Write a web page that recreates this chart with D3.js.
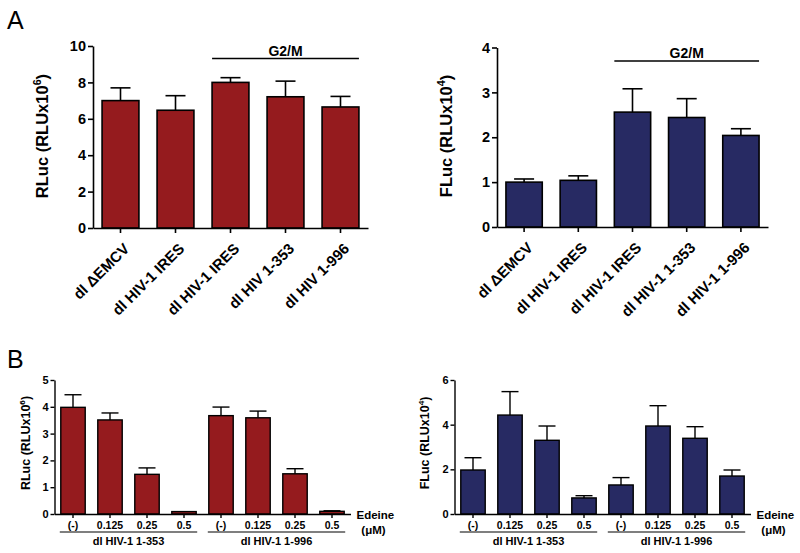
<!DOCTYPE html>
<html>
<head>
<meta charset="utf-8">
<script src="https://cdn.jsdelivr.net/npm/d3@7"></script>
<style>
html,body{margin:0;padding:0;background:#fff;}
svg{display:block;font-family:"Liberation Sans",Arial,Helvetica,sans-serif;}
</style>
</head>
<body>
<svg id="chart" width="800" height="553"></svg>
<script>
// ---------- data ----------
const catsA_left  = ["dl \u0394EMCV","dl HIV-1 IRES","dl HIV-1 IRES","dl HIV 1-353","dl HIV 1-996"];
const catsA_right = ["dl \u0394EMCV","dl HIV-1 IRES","dl HIV-1 IRES","dl HIV-1 1-353","dl HIV-1 1-996"];
const rlucA    = [7.0, 6.47, 8.0, 7.21, 6.65];
const rlucAErr = [0.7, 0.8, 0.26, 0.86, 0.58];
const flucA    = [1.0, 1.04, 2.56, 2.44, 2.04];
const flucAErr = [0.07, 0.10, 0.52, 0.42, 0.15];
const ticksA_left  = [0, 2, 4, 6, 8, 10];
const ticksA_right = [0, 1, 2, 3, 4];

const edeineDoses = ["(-)", "0.125", "0.25", "0.5", "(-)", "0.125", "0.25", "0.5"];
const groupsB = ["dl HIV-1 1-353", "dl HIV-1 1-996"];
const rlucB    = [3.98, 3.51, 1.48, 0.09, 3.67, 3.59, 1.50, 0.10];
const rlucBErr = [0.47, 0.26, 0.24, 0.0, 0.32, 0.25, 0.19, 0.02];
const flucB    = [1.97, 4.43, 3.30, 0.72, 1.30, 3.94, 3.39, 1.70];
const flucBErr = [0.55, 1.05, 0.64, 0.10, 0.33, 0.91, 0.52, 0.27];
const ticksB_left  = [0, 1, 2, 3, 4, 5];
const ticksB_right = [0, 2, 4, 6];

const RED = "#951b1e", NAVY = "#272a63";

const svg = d3.select("#chart");

function panel(o) {
  const g = svg.append("g");
  const idx = d3.range(o.values.length);
  const x = d3.scaleBand().domain(idx).range([o.x0, o.x1]).padding(0);
  const y = d3.scaleLinear().domain([0, o.ymax]).range([o.yb, o.yt]);
  const bw = x.bandwidth() * o.barFrac;
  const off = (x.bandwidth() - bw) / 2;

  // error bars (behind bars)
  const eg = g.append("g").attr("stroke", "#000").attr("stroke-width", o.sw);
  idx.forEach(i => {
    if (o.errors[i] <= 0) return;
    const cx = x(i) + x.bandwidth() / 2;
    eg.append("line").attr("x1", cx).attr("x2", cx)
      .attr("y1", y(o.values[i])).attr("y2", y(o.values[i] + o.errors[i]));
    eg.append("line").attr("x1", cx - o.cap / 2).attr("x2", cx + o.cap / 2)
      .attr("y1", y(o.values[i] + o.errors[i])).attr("y2", y(o.values[i] + o.errors[i]));
  });

  g.append("g").selectAll("rect").data(o.values).join("rect")
    .attr("x", (d, i) => x(i) + off)
    .attr("y", d => y(d))
    .attr("width", bw)
    .attr("height", d => y(0) - y(d))
    .attr("fill", o.color)
    .attr("stroke", "#000")
    .attr("stroke-width", o.sw);

  // y axis
  const ya = g.append("g").attr("transform", `translate(${o.x0},0)`)
    .call(d3.axisLeft(y).tickValues(o.ticks).tickFormat(d3.format("d"))
      .tickSize(o.tick).tickSizeOuter(0).tickPadding(2));
  ya.select(".domain").attr("stroke-width", o.sw);
  ya.selectAll(".tick line").attr("stroke-width", o.sw);
  ya.selectAll("text").attr("font-size", o.tickFont).attr("font-weight", "bold")
    .attr("font-family", "Liberation Sans, Arial, sans-serif").attr("fill", "#000");

  // x axis
  const xa = g.append("g").attr("transform", `translate(0,${o.yb})`)
    .call(d3.axisBottom(x).tickSize(o.tick).tickSizeOuter(0).tickFormat(i => o.labels[i]));
  xa.select(".domain").attr("stroke-width", o.sw);
  xa.selectAll(".tick line").attr("stroke-width", o.sw);
  const xt = xa.selectAll("text").attr("font-size", o.xFont).attr("font-weight", "bold")
    .attr("font-family", "Liberation Sans, Arial, sans-serif").attr("fill", "#000");
  if (o.rotate) {
    xt.attr("text-anchor", "end").attr("dy", "0.35em")
      .attr("transform", `translate(${o.rotX},${o.rotY}) rotate(-45)`).attr("y", 0).attr("x", 0);
  } else {
    xt.attr("y", o.tick + 4).attr("dy", "0.71em");
  }

  // y title
  const t = g.append("text")
    .attr("transform", `translate(${o.titleX},${o.titleY}) rotate(-90)`)
    .attr("text-anchor", "middle").attr("font-weight", "bold").attr("font-size", o.titleFont);
  t.append("tspan").text(o.title1);
  t.append("tspan").text(o.titleSup).attr("font-size", o.titleFont * 0.65).attr("dy", -o.titleFont * 0.4);
  t.append("tspan").text(")").attr("dy", o.titleFont * 0.4);

  return {g, x, y, bw, off};
}

// ---------- Panel letters ----------
svg.append("text").attr("x", 7).attr("y", 29).attr("font-size", 25).text("A");
svg.append("text").attr("x", 7).attr("y", 368).attr("font-size", 25).text("B");

const common = {sw: 1.6, tick: 5, barFrac: 0.67, rotate: true, rotX: 6, rotY: 18};

const pa1 = panel(Object.assign({}, common, {
  x0: 93, x1: 368, yt: 46, yb: 228, ymax: 10, ticks: ticksA_left,
  values: rlucA, errors: rlucAErr, labels: catsA_left, color: RED, cap: 20,
  tickFont: 14.5, xFont: 15, titleFont: 16.5, titleX: 48, titleY: 136,
  title1: "RLuc (RLUx10", titleSup: "6"
}));
const pa2 = panel(Object.assign({}, common, {
  x0: 497, x1: 768, yt: 47.5, yb: 227, ymax: 4, ticks: ticksA_right,
  values: flucA, errors: flucAErr, labels: catsA_right, color: NAVY, cap: 20,
  tickFont: 14.5, xFont: 15, titleFont: 16.5, titleX: 452, titleY: 136,
  title1: "FLuc (RLUx10", titleSup: "4"
}));

function g2m(p, n0, n1, ly) {
  const xa = p.x(n0) + p.off, xb = p.x(n1) + p.off + p.bw;
  p.g.append("line").attr("x1", xa).attr("x2", xb).attr("y1", ly).attr("y2", ly)
    .attr("stroke", "#000").attr("stroke-width", 1.6);
  p.g.append("text").attr("x", (xa + xb) / 2).attr("y", ly - 3).attr("text-anchor", "middle")
    .attr("font-weight", "bold").attr("font-size", 14).text("G2/M");
}
g2m(pa1, 2, 4, 58.5);
g2m(pa2, 2, 4, 61);

// ---------- Panel B ----------
const commonB = {sw: 1.4, tick: 4, barFrac: 0.66, rotate: false};
const pb1 = panel(Object.assign({}, commonB, {
  x0: 54.5, x1: 350.5, yt: 380, yb: 514, ymax: 5, ticks: ticksB_left,
  values: rlucB, errors: rlucBErr, labels: edeineDoses, color: RED, cap: 17,
  tickFont: 11, xFont: 10.5, titleFont: 12.5, titleX: 30, titleY: 443,
  title1: "RLuc (RLUx10", titleSup: "6"
}));
const pb2 = panel(Object.assign({}, commonB, {
  x0: 454.5, x1: 750.5, yt: 380, yb: 514, ymax: 6, ticks: ticksB_right,
  values: flucB, errors: flucBErr, labels: edeineDoses, color: NAVY, cap: 17,
  tickFont: 11, xFont: 10.5, titleFont: 12.5, titleX: 429, titleY: 443,
  title1: "FLuc (RLUx10", titleSup: "4"
}));

function groupsUnder(p, x1) {
  groupsB.forEach((name, gi) => {
    const xa = p.x(gi * 4) + p.off - 1, xb = p.x(gi * 4 + 3) + p.off + p.bw + 1;
    p.g.append("line").attr("x1", xa).attr("x2", xb).attr("y1", 532).attr("y2", 532)
      .attr("stroke", "#000").attr("stroke-width", 1.2);
    p.g.append("text").attr("x", (xa + xb) / 2).attr("y", 545).attr("text-anchor", "middle")
      .attr("font-weight", "bold").attr("font-size", 11).text(name);
  });
  p.g.append("text").attr("x", x1 + 6).attr("y", 518.5).attr("font-weight", "bold")
    .attr("font-size", 11.5).text("Edeine");
  p.g.append("text").attr("x", x1 + 23).attr("y", 534).attr("text-anchor", "middle")
    .attr("font-weight", "bold").attr("font-size", 11.5).text("(\u03bcM)");
}
groupsUnder(pb1, 350.5);
groupsUnder(pb2, 750.5);
</script>
</body>
</html>
